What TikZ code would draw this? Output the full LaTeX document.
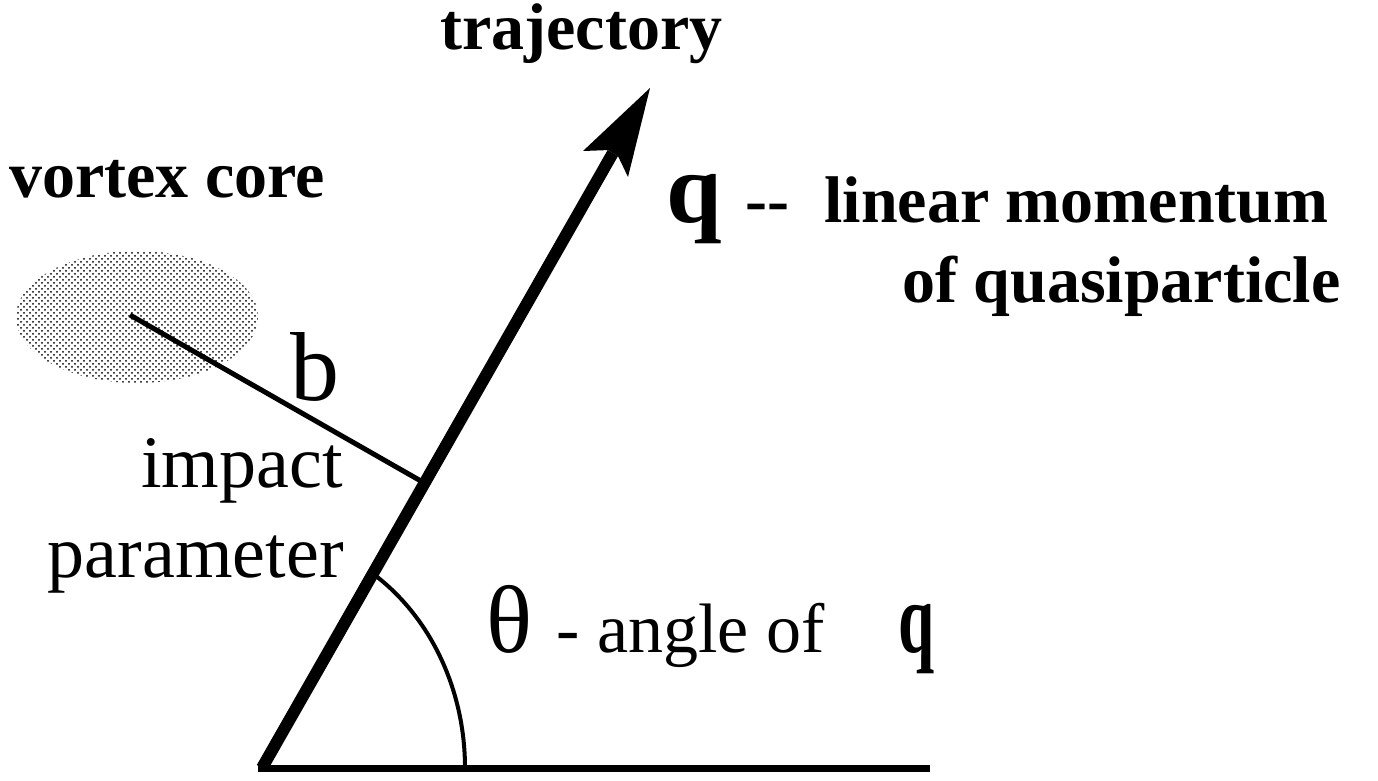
\documentclass[tikz,border=0pt]{standalone}
\usepackage{fontspec}
\setmainfont{Liberation Serif}
\usetikzlibrary{calc,patterns}
\begin{document}
\begin{tikzpicture}[x=0.5pt,y=-0.5pt,
  bl/.style={inner sep=0pt, anchor=base west, font=\fontsize{33}{33}\selectfont\bfseries},
  rg/.style={inner sep=0pt, font=\fontsize{37}{37}\selectfont},
  thin line/.style={line width=2.5pt},
  arcline/.style={line width=2pt}]
\useasboundingbox (0,0) rectangle (1378,781);
% key points
\coordinate (O) at (262,768);
\coordinate (T) at (650,88);
\coordinate (E) at (930,768);
\coordinate (A) at (465,768);
\coordinate (Lb) at (583,151);
\coordinate (Rb) at (628,177);
\coordinate (Nl) at (607.6,150.1);
\coordinate (Nr) at (618.0,156.1);
\coordinate (N) at (612.8,153.1);
% vortex core
\fill[pattern=crosshatch dots, pattern color=black] (137,317) ellipse [x radius=121, y radius=66];
\node[inner sep=0pt] (C) at (130,315) {};
% impact parameter line
\draw[thin line] (C.center) -- ($(O)!(C.center)!(T)$) coordinate (F);
% baseline
\draw[line width=3.5pt] ($(O)+(-4,0)$) -- (E);
% angle arc
\draw[arcline] (A) arc[start angle=0, end angle=-56, x radius=203, y radius=232];
% trajectory arrow
\draw[line width=6pt] (O) -- (N);
\fill (T) -- (Lb) -- (Nl) -- (Nr) -- (Rb) -- cycle;
% labels
\node[bl] (traj) at (440,50) {\smash{trajectory}};
\node[bl] (vc) at (9,198) {vortex core};
\node[inner sep=0pt, anchor=base west, font=\fontsize{50}{50}\selectfont\bfseries] (q1) at (666,222) {q};
\node[bl] (dd) at (745,222) {-{}-};
\node[bl] (lm) at (824,222) {linear momentum};
\node[bl] (oq) at (902,302) {of quasiparticle};
\node[inner sep=0pt, anchor=base west, font=\fontsize{49}{49}\selectfont] (b) at (290,400) {b};
\node[rg, anchor=base east] (imp) at (343,487) {impact};
\node[rg, anchor=base east] (par) at (344,577) {parameter};
\node[inner sep=0pt, anchor=base west, font=\fontsize{48}{48}\selectfont] (th) at (486,652) {θ};
\node[inner sep=0pt, anchor=base west, font=\fontsize{35}{35}\selectfont] (ang) at (556,652) {- angle of};
\node[inner sep=0pt, anchor=base west, font=\fontsize{50}{50}\selectfont\bfseries, xscale=0.65] (q2) at (898,652) {q};
\end{tikzpicture}
\end{document}
